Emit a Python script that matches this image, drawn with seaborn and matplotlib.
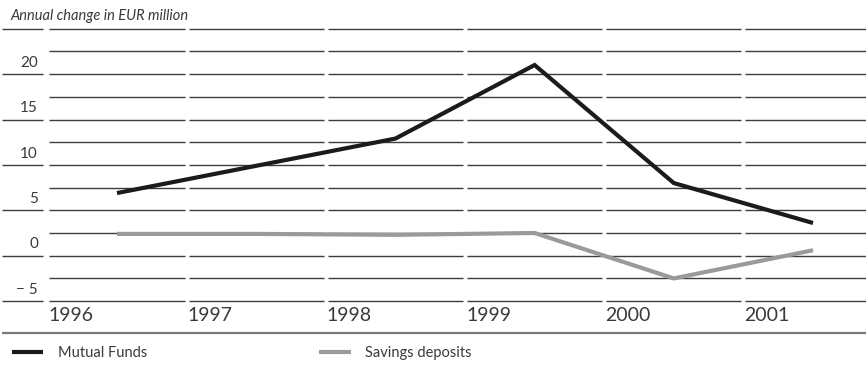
import numpy as np
import pandas as pd
import matplotlib
matplotlib.use("Agg")
import matplotlib.pyplot as plt
import seaborn as sns

# Annual change in EUR million
years = [1996, 1997, 1998, 1999, 2000, 2001]
mutual_funds = [4.4, 7.4, 10.4, 18.5, 5.5, 1.1]
savings_deposits = [-0.1, -0.1, -0.2, 0.0, -5.0, -1.9]
y_ticks = [20, 15, 10, 5, 0, -5]
y_tick_labels = ["20", "15", "10", "5", "0", "\u2212 5"]
series_names = ["Mutual Funds", "Savings deposits"]
series_colors = ["#1b1b1b", "#9a9a9a"]

df = pd.DataFrame({
    "year": years * 2,
    "value": mutual_funds + savings_deposits,
    "series": [series_names[0]] * len(years) + [series_names[1]] * len(years),
})

sns.set_theme(style="white")
plt.rcParams["font.family"] = ["Lato", "DejaVu Sans"]

W, H, DPI = 866, 365, 100
fig = plt.figure(figsize=(W / DPI, H / DPI), dpi=DPI)
ax = fig.add_axes([0, 0, 1, 1])
ax.set_axis_off()

# pixel layout of the panel
x_first_px, step_px = 117.0, 139.2
zero_px, px_per_unit = 233.0, 9.08
ax.set_xlim(years[0] - x_first_px / step_px, years[0] + (W - x_first_px) / step_px)
ax.set_ylim((zero_px - H) / px_per_unit, zero_px / px_per_unit)

px = 1.0 / step_px  # one pixel in x data units
grid_color = "#3c3c3c"

# broken horizontal rules: one block per year column
levels = np.arange(-7.5, 22.5 + 0.01, 2.5)
for yr in years:
    ax.hlines(levels, yr - 0.5 + 2 * px, yr + 0.5 - 2 * px,
              color=grid_color, lw=1.0, zorder=1)
# label column carries every other rule
label_levels = np.arange(-7.5, 22.5 + 0.01, 5.0)
ax.hlines(label_levels, years[0] - 115 * px, years[0] - 74 * px,
          color=grid_color, lw=1.0, zorder=1)

# bottom rule below the year labels
ax.hlines((zero_px - 333.3) / px_per_unit, ax.get_xlim()[0] + 2 * px, ax.get_xlim()[1],
          color="#7a7a7a", lw=1.6, zorder=1)

sns.lineplot(data=df, x="year", y="value", hue="series",
             palette=dict(zip(series_names, series_colors)),
             linewidth=3.0, ax=ax, legend=False, zorder=3,
             solid_capstyle="butt", solid_joinstyle="miter")

text_color = "#3a3a3a"

# value labels on the left
for v, lab in zip(y_ticks, y_tick_labels):
    ax.text(years[0] - 79 * px, v - 1.25, lab, ha="right", va="center",
            fontsize=11, color=text_color)

# year labels at the left edge of each column
for yr in years:
    ax.text(yr - 0.5 + 1 * px, (zero_px - 315.5) / px_per_unit, str(yr),
            ha="left", va="center", fontsize=14, color=text_color)

# unit caption
fig.text(10 / W, 1 - 16 / H, "Annual change in EUR million", ha="left", va="center",
         fontsize=10.5, style="italic", color=text_color)

# legend along the bottom
handles = [plt.Line2D([], [], color=c, lw=3.0, solid_capstyle="butt") for c in series_colors]
leg = fig.legend(handles, series_names, loc="center left",
                 bbox_to_anchor=(12 / W, 1 - 353 / H), ncol=2, frameon=False,
                 fontsize=10.5, handlelength=2.15, handletextpad=1.0,
                 columnspacing=11.8, borderaxespad=0, borderpad=0)
for t in leg.get_texts():
    t.set_color(text_color)

fig.savefig("out.png", dpi=DPI)
